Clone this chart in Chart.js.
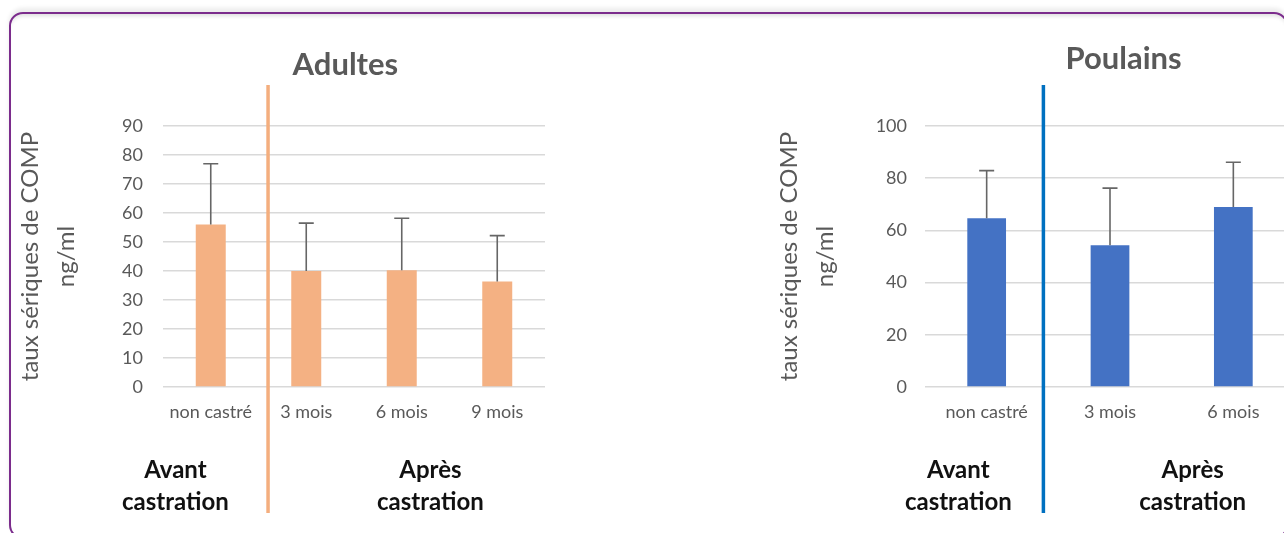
<!DOCTYPE html>
<html>
<head>
<meta charset="utf-8">
<script src="https://cdn.jsdelivr.net/npm/chart.js@4/dist/chart.umd.min.js"></script>
<style>
  html, body { margin: 0; padding: 0; width: 1284px; height: 533px; overflow: hidden; background: #fff; }
  #card {
    position: absolute; left: 9px; top: 12px; width: 1279px; height: 527px;
    box-sizing: border-box; border: 2px solid #7b2c8c; border-radius: 14px;
    overflow: hidden; background: #fff;
    box-shadow: 0 -4px 4px #ececec, inset 0 5px 4px -3px #dedede;
  }
  #inner { position: absolute; left: -11px; top: -14px; width: 1284px; height: 533px; }
  canvas { position: absolute; top: 0; }
</style>
</head>
<body>
<div id="card"><div id="inner">
  <canvas id="adultes" width="560" height="533" style="left:0px"></canvas>
  <canvas id="poulains" width="560" height="533" style="left:760px"></canvas>
</div></div>
<script>
// Serum COMP (ng/ml), mean and standard deviation per group
const adultesCategories = ['non castré', '3 mois', '6 mois', '9 mois'];
const adultesMeans = [56, 40, 40.3, 36.4];
const adultesSD = [21, 16.5, 17.9, 15.8];
const adultesTicks = [0, 10, 20, 30, 40, 50, 60, 70, 80, 90];

const poulainsCategories = ['non castré', '3 mois', '6 mois'];
const poulainsMeans = [64.7, 54.3, 69.0];
const poulainsSD = [18.2, 21.9, 17.1];
const poulainsTicks = [0, 20, 40, 60, 80, 100];

const yTitle = ['taux sériques de COMP', 'ng/ml'];
const groupNames = [['Avant', 'castration'], ['Après', 'castration']];

const FONT = 'Lato, "Open Sans", sans-serif';
const GREY = '#595959';

// Draws error bars, the castration divider, the panel title and the group captions
function makeOverlay(cfg) {
  return {
    id: 'overlay',
    afterDatasetsDraw(chart) {
      const { ctx, chartArea, scales: { x, y } } = chart;
      const ds = chart.data.datasets[0];
      const meta = chart.getDatasetMeta(0);
      ctx.save();

      ctx.strokeStyle = '#666666';
      ctx.lineWidth = 1.6;
      meta.data.forEach((bar, i) => {
        const top = y.getPixelForValue(ds.data[i] + ds.sd[i]);
        ctx.beginPath();
        ctx.moveTo(bar.x, bar.y);
        ctx.lineTo(bar.x, top);
        ctx.moveTo(bar.x - 7.5, top);
        ctx.lineTo(bar.x + 7.5, top);
        ctx.stroke();
      });

      const sx = x.getPixelForValue(cfg.dividerAt);
      ctx.strokeStyle = cfg.dividerColor;
      ctx.lineWidth = 3.5;
      ctx.beginPath();
      ctx.moveTo(sx, 85);
      ctx.lineTo(sx, 513);
      ctx.stroke();

      ctx.fillStyle = GREY;
      ctx.textAlign = 'center';
      ctx.textBaseline = 'middle';
      ctx.font = 'bold 31px ' + FONT;
      ctx.fillText(cfg.title, x.getPixelForValue(cfg.titleAt), cfg.titleY);

      ctx.fillStyle = '#111111';
      ctx.font = 'bold 24px ' + FONT;
      groupNames.forEach((lines, g) => {
        const gx = x.getPixelForValue(cfg.groupsAt[g]);
        lines.forEach((t, k) => ctx.fillText(t, gx, chartArea.bottom + 83 + k * 32));
      });
      ctx.restore();
    }
  };
}

function buildChart(id, categories, means, sd, ticks, color, cfg) {
  return new Chart(document.getElementById(id), {
    type: 'bar',
    data: {
      labels: categories,
      datasets: [{ data: means, sd: sd, backgroundColor: color, borderWidth: 0,
                   categoryPercentage: 1, barPercentage: 0.314 }]
    },
    options: {
      responsive: false,
      animation: false,
      devicePixelRatio: 1,
      layout: { padding: { left: 0, right: cfg.padRight, top: 126, bottom: 0 } },
      plugins: { legend: { display: false }, tooltip: { enabled: false }, title: { display: false } },
      scales: {
        x: {
          grid: { display: false, drawTicks: false },
          border: { display: false },
          ticks: { color: GREY, font: { family: FONT, size: 18 }, padding: 14, maxRotation: 0 },
          afterFit: s => { s.height = 146; }
        },
        y: {
          min: 0, max: ticks[ticks.length - 1],
          afterBuildTicks: s => { s.ticks = ticks.map(v => ({ value: v })); },
          grid: { color: '#d9d9d9', lineWidth: 1.5, drawTicks: false },
          border: { display: false },
          ticks: { color: GREY, font: { family: FONT, size: 18 }, padding: cfg.tickPad },
          title: { display: true, text: yTitle, color: GREY,
                   font: { family: FONT, size: 24, lineHeight: 1.5 }, padding: { top: cfg.titlePad, bottom: 0 } },
          afterFit: s => { s.width = cfg.axisWidth; }
        }
      }
    },
    plugins: [makeOverlay(cfg)]
  });
}

buildChart('adultes', adultesCategories, adultesMeans, adultesSD, adultesTicks, '#F4B183', {
  padRight: 15, axisWidth: 163, tickPad: 20, titlePad: 12,
  dividerAt: 0.6, dividerColor: '#F4AE7E',
  title: 'Adultes', titleAt: 1.41, titleY: 65,
  groupsAt: [-0.37, 2.3]
});

buildChart('poulains', poulainsCategories, poulainsMeans, poulainsSD, poulainsTicks, '#4472C4', {
  padRight: 25, axisWidth: 165, tickPad: 18, titlePad: 11,
  dividerAt: 0.46, dividerColor: '#0070C0',
  title: 'Poulains', titleAt: 1.11, titleY: 59,
  groupsAt: [-0.23, 1.67]
});
</script>
</body>
</html>
